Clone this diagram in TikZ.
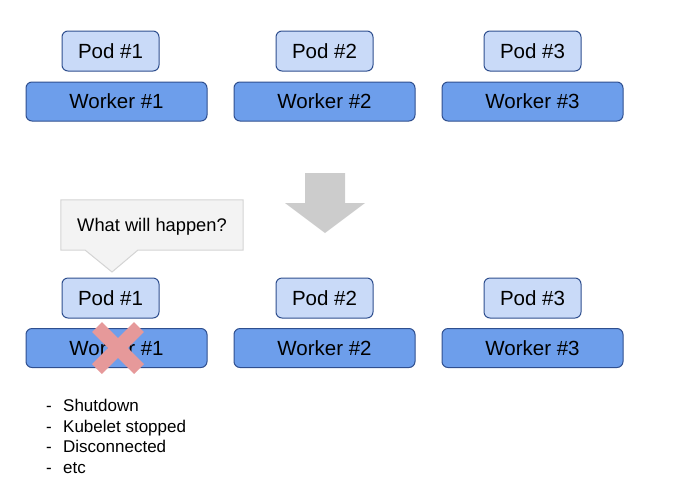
\documentclass[tikz,border=0pt]{standalone}
\usepackage{fontspec}
\setmainfont{Liberation Sans}
\usetikzlibrary{backgrounds}

\definecolor{podfill}{HTML}{C9DAF8}
\definecolor{workerfill}{HTML}{6D9EEB}
\definecolor{boxline}{HTML}{2F4F8F}
\definecolor{bubblefill}{HTML}{F3F3F3}
\definecolor{bubbleline}{HTML}{D4D4D4}
\definecolor{arrowgray}{HTML}{CCCCCC}
\definecolor{crossred}{HTML}{E6999A}

\tikzset{
  pod/.style={draw=boxline, fill=podfill, rounded corners=6pt,
    line width=1pt, minimum width=97pt, minimum height=40pt, inner sep=0pt,
    font=\fontsize{20.5}{24}\selectfont},
  worker/.style={draw=boxline, fill=workerfill, rounded corners=6pt,
    line width=1pt, minimum width=181pt, minimum height=39pt, inner sep=0pt,
    font=\fontsize{20.5}{24}\selectfont},
  cause/.style={anchor=base west, inner sep=0pt,
    font=\fontsize{17}{20}\selectfont}
}

\begin{document}
\begin{tikzpicture}[x=1pt,y=-1pt]
    \useasboundingbox (0,0) rectangle (700,501);

    % before / after rows
    \foreach \i/\px/\wx in {1/110.5/116.5, 2/324.5/324.5, 3/532.5/532.5} {
      \node[pod] (podA\i) at (\px,51) {Pod \#\i};
      \node[worker] (workerA\i) at (\wx,101.5) {Worker \#\i};
      \node[pod] (podB\i) at (\px,298) {Pod \#\i};
      \node[worker] (workerB\i) at (\wx,348) {Worker \#\i};
    }

    % big arrow
    \fill[arrowgray] (305,173) -- (345,173) -- (345,203) -- (365,203)
      -- (325,233) -- (285,203) -- (305,203) -- cycle;

    % speech bubble
    \node[minimum width=182pt, minimum height=50pt, inner sep=0pt,
      text depth=0pt, font=\fontsize{18.3}{22}\selectfont] (question)
      at (152,225) {What will happen?};
    \coordinate (tip) at (112,272);
    \begin{pgfonlayer}{background}
      \filldraw[fill=bubblefill, draw=bubbleline, line width=1pt]
        (question.north west) -- (question.north east)
        -- (question.south east) -- (138,250) -- (tip) -- (85,250)
        -- (question.south west) -- cycle;
    \end{pgfonlayer}

    % failed worker
    \draw[crossred, line width=14pt] (97,327) -- (139,369)
      (139,327) -- (97,369);

    % possible causes
    \foreach \t [count=\k] in {Shutdown, Kubelet stopped, Disconnected, etc}
      \node[cause] (cause\k) at (46,391.5+20.4*\k)
        {\makebox[17pt][l]{-}\t};
\end{tikzpicture}
\end{document}
